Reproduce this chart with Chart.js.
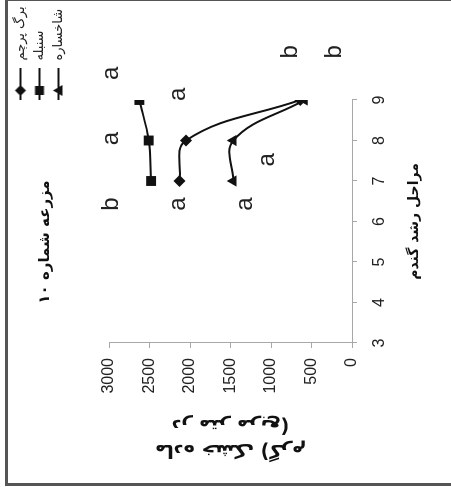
<!DOCTYPE html>
<html lang="fa">
<head>
  <meta charset="UTF-8">
  <title>مزرعه شماره ۱۰</title>
  <script src="https://cdn.jsdelivr.net/npm/chart.js"></script>
  <style>
    html, body {
      margin: 0;
      padding: 0;
      background: #fff;
      overflow: hidden;
    }
    .frame {
      position: absolute;
      left: 5px;
      top: -2px;
      width: 470px;
      height: 482px;
      border: 3px solid #555;
    }
    /* the whole chart is turned a quarter turn to the left, like the scanned figure */
    .rotated {
      position: absolute;
      left: 0;
      top: 0;
      width: 487px;
      height: 451px;
      transform-origin: 0 0;
      transform: translateY(487px) rotate(-90deg);
    }
  </style>
</head>
<body>
  <div class="frame"></div>
  <div class="rotated"><canvas id="chart" width="487" height="451"></canvas></div>

  <script>
    const stages = [7, 8, 9];
    const flagLeaf = [2130, 2050, 640];
    const spike = [2480, 2510, 2625];
    const shoot = [1465, 1465, 585];
    const seriesNames = ['برگ پرچم', 'سنبله', 'شاخساره'];
    const markers = ['rectRot', 'rect', 'triangle'];

    // significance letters (stage, value)
    const letterStage = [9.66, 9.14, 10.19, 10.19, 8.05, 7.52, 6.43, 6.43, 6.43];
    const letterValue = [2960, 2135, 750, 210, 2960, 1035, 2960, 2135, 1310];
    const letterText = ['a', 'a', 'b', 'b', 'a', 'a', 'b', 'a', 'a'];

    const persian = 'DejaVu Sans';
    const latin = "'Liberation Sans', Arial, sans-serif";

    // legend icon: short line with the marker, shifted left inside the image
    function legendIcon(style) {
      const c = document.createElement('canvas');
      c.width = 65;
      c.height = 14;
      const g = c.getContext('2d');
      const cx = 22.5, cy = 7;
      g.strokeStyle = '#111';
      g.lineWidth = 2;
      g.beginPath();
      g.moveTo(0, cy);
      g.lineTo(45, cy);
      g.stroke();
      g.fillStyle = '#111';
      g.beginPath();
      if (style === 'rectRot') {
        g.moveTo(cx, cy - 5.5); g.lineTo(cx + 5.5, cy); g.lineTo(cx, cy + 5.5); g.lineTo(cx - 5.5, cy);
      } else if (style === 'rect') {
        g.rect(cx - 4.5, cy - 4.5, 9, 9);
      } else {
        g.moveTo(cx, cy - 5.5); g.lineTo(cx + 5.5, cy + 4); g.lineTo(cx - 5.5, cy + 4);
      }
      g.closePath();
      g.fill();
      return c;
    }
    const icons = markers.map(legendIcon);

    const letterPlugin = {
      id: 'letters',
      afterDatasetsDraw(chart) {
        const { ctx, scales: { x, y } } = chart;
        ctx.save();
        ctx.font = '24px ' + latin;
        ctx.fillStyle = '#222';
        ctx.textAlign = 'center';
        ctx.textBaseline = 'alphabetic';
        letterText.forEach((t, i) => {
          ctx.fillText(t, x.getPixelForValue(letterStage[i]), y.getPixelForValue(letterValue[i]) + 6);
        });
        ctx.restore();
      }
    };

    const toPoints = vals => stages.map((s, i) => ({ x: s, y: vals[i] }));

    function series(i, vals, radius) {
      return {
        label: seriesNames[i],
        data: toPoints(vals),
        borderColor: '#111',
        backgroundColor: '#111',
        borderWidth: 2,
        pointStyle: markers[i],
        pointRadius: radius,
        pointBorderWidth: 0,
        tension: 0.4
      };
    }

    const axisGray = '#a8a8a8';

    new Chart(document.getElementById('chart'), {
      type: 'line',
      data: {
        datasets: [
          series(0, flagLeaf, 6),
          series(1, spike, 7),
          series(2, shoot, 6.5)
        ]
      },
      options: {
        responsive: false,
        animation: false,
        layout: { padding: { top: 8, left: 3, right: 0, bottom: 10 } },
        plugins: {
          title: {
            display: true,
            text: 'مزرعه شماره ۱۰',
            color: '#111',
            font: { family: persian, size: 15, weight: 'bold' },
            padding: { top: 28, bottom: 55 }
          },
          legend: {
            position: 'right',
            align: 'start',
            maxWidth: 100,
            labels: {
              usePointStyle: true,
              pointStyleWidth: 27,
              padding: 6,
              color: '#222',
              font: { family: persian, size: 13 },
              generateLabels: chart =>
                Chart.defaults.plugins.legend.labels.generateLabels(chart)
                  .map((item, i) => ({ ...item, pointStyle: icons[i] }))
            }
          },
          tooltip: { enabled: false }
        },
        scales: {
          x: {
            type: 'linear',
            min: 3,
            max: 9,
            ticks: { stepSize: 1, padding: 13, color: '#222', font: { family: latin, size: 16 } },
            grid: { drawOnChartArea: false, tickLength: 5, color: axisGray },
            border: { color: axisGray },
            title: {
              display: true,
              text: 'مراحل رشد گندم',
              color: '#111',
              font: { family: persian, size: 14, weight: 'bold' },
              padding: { top: 4, bottom: 18 }
            }
          },
          y: {
            min: 0,
            max: 3000,
            // fixed axis width, otherwise the layout caps it and squeezes the plot
            afterFit: scale => { scale.width = 141; },
            ticks: {
              stepSize: 500,
              padding: 10,
              color: '#222',
              font: { family: latin, size: 16 },
              callback: v => String(v)
            },
            grid: { drawOnChartArea: false, tickLength: 5, color: axisGray },
            border: { color: axisGray },
            title: {
              display: true,
              text: ['ماده خشک (گرم', 'در متر مربع)\u200F'],
              color: '#111',
              font: { family: persian, size: 19, weight: 'bold', lineHeight: 1.316 },
              padding: { top: 21.5, bottom: 20 }
            }
          }
        }
      },
      plugins: [letterPlugin]
    });
  </script>
</body>
</html>
